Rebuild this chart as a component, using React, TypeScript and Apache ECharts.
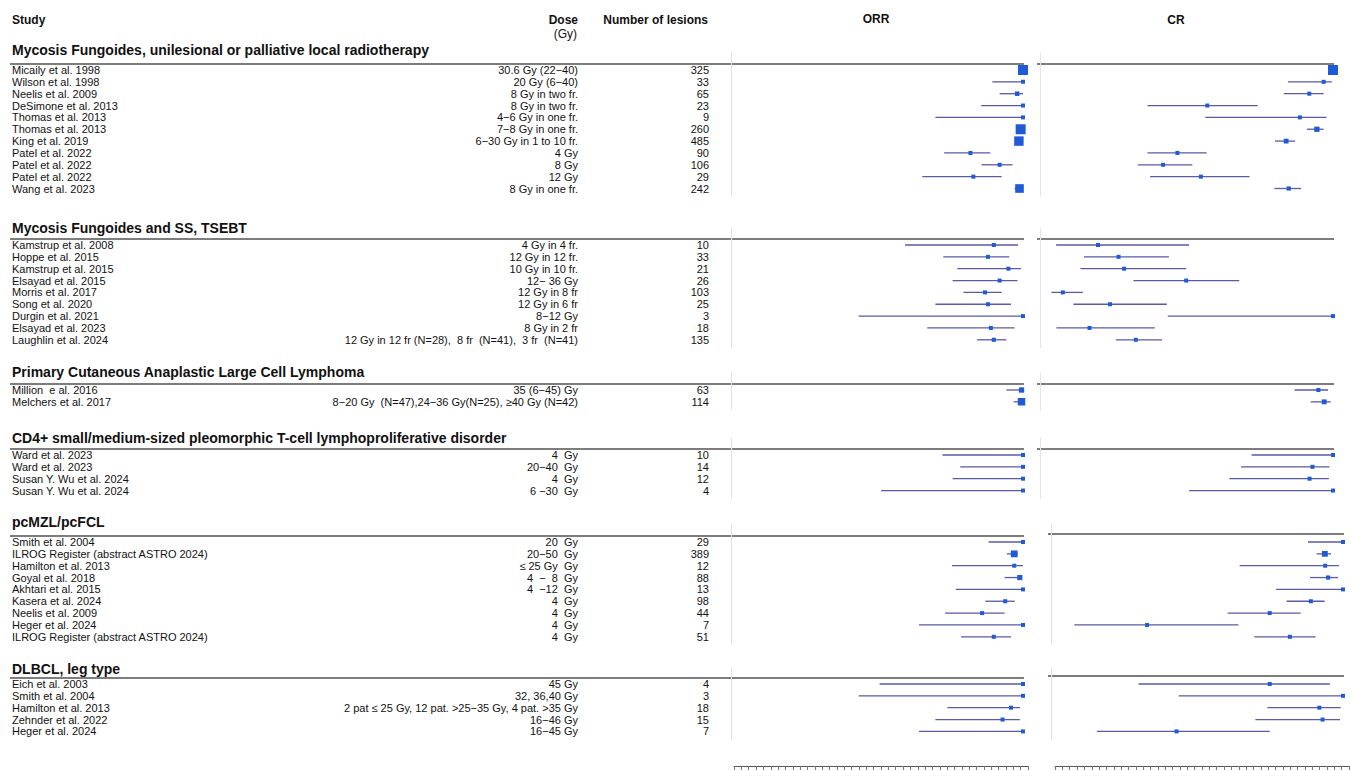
import React, { useEffect, useRef } from "react";
import * as echarts from "echarts";

// ---------------- data ----------------
const sectionTitles = [
  "Mycosis Fungoides, unilesional or palliative local radiotherapy",
  "Mycosis Fungoides and SS, TSEBT",
  "Primary Cutaneous Anaplastic Large Cell Lymphoma",
  "CD4+ small/medium-sized pleomorphic T-cell lymphoproliferative disorder",
  "pcMZL/pcFCL",
  "DLBCL, leg type",
];

// number of studies listed under each section, in order
const sectionSizes = [11, 9, 2, 4, 9, 5];

const studyNames = [
  // MF, local RT
  "Micaily et al. 1998", "Wilson et al. 1998", "Neelis et al. 2009", "DeSimone et al. 2013",
  "Thomas et al. 2013", "Thomas et al. 2013", "King et al. 2019", "Patel et al. 2022",
  "Patel et al. 2022", "Patel et al. 2022", "Wang et al. 2023",
  // MF and SS, TSEBT
  "Kamstrup et al. 2008", "Hoppe et al. 2015", "Kamstrup et al. 2015", "Elsayad et al. 2015",
  "Morris et al. 2017", "Song et al. 2020", "Durgin et al. 2021", "Elsayad et al. 2023",
  "Laughlin et al. 2024",
  // pcALCL
  "Million  e al. 2016", "Melchers et al. 2017",
  // CD4+ SMPLPD
  "Ward et al. 2023", "Ward et al. 2023", "Susan Y. Wu et al. 2024", "Susan Y. Wu et al. 2024",
  // pcMZL/pcFCL
  "Smith et al. 2004", "ILROG Register (abstract ASTRO 2024)", "Hamilton et al. 2013",
  "Goyal et al. 2018", "Akhtari et al. 2015", "Kasera et al. 2024", "Neelis et al. 2009",
  "Heger et al. 2024", "ILROG Register (abstract ASTRO 2024)",
  // DLBCL, leg type
  "Eich et al. 2003", "Smith et al. 2004", "Hamilton et al. 2013", "Zehnder et al. 2022",
  "Heger et al. 2024",
];

const doses = [
  "30.6 Gy (22−40)", "20 Gy (6−40)", "8 Gy in two fr.", "8 Gy in two fr.",
  "4−6 Gy in one fr.", "7−8 Gy in one fr.", "6−30 Gy in 1 to 10 fr.", "4 Gy",
  "8 Gy", "12 Gy", "8 Gy in one fr.",
  "4 Gy in 4 fr.", "12 Gy in 12 fr.", "10 Gy in 10 fr.", "12− 36 Gy",
  "12 Gy in 8 fr", "12 Gy in 6 fr", "8−12 Gy", "8 Gy in 2 fr",
  "12 Gy in 12 fr (N=28),  8 fr  (N=41),  3 fr  (N=41)",
  "35 (6−45) Gy", "8−20 Gy  (N=47),24−36 Gy(N=25), ≥40 Gy (N=42)",
  "4  Gy", "20−40  Gy", "4  Gy", "6 −30  Gy",
  "20  Gy", "20−50  Gy", "≤ 25 Gy  Gy", "4  −  8  Gy", "4  −12  Gy", "4  Gy", "4  Gy",
  "4  Gy", "4  Gy",
  "45 Gy", "32, 36,40 Gy", "2 pat ≤ 25 Gy, 12 pat. >25−35 Gy, 4 pat. >35 Gy", "16−46 Gy",
  "16−45 Gy",
];

const lesionCounts = [
  325, 33, 65, 23, 9, 260, 485, 90, 106, 29, 242,
  10, 33, 21, 26, 103, 25, 3, 18, 135,
  63, 114,
  10, 14, 12, 4,
  29, 389, 12, 88, 13, 98, 44, 7, 51,
  4, 3, 18, 15, 7,
];

// overall response rate: estimate and 95% CI
const orrEst = [
  1.0, 1.0, 0.98, 1.0, 1.0, 0.992, 0.986, 0.82, 0.92, 0.83, 0.988,
  0.9, 0.88, 0.95, 0.92, 0.87, 0.88, 1.0, 0.89, 0.9,
  0.995, 0.995,
  1.0, 1.0, 1.0, 1.0,
  1.0, 0.97, 0.97, 0.989, 1.0, 0.939, 0.86, 1.0, 0.9,
  1.0, 1.0, 0.959, 0.93, 1.0,
];
const orrLow = [
  0.99, 0.895, 0.92, 0.857, 0.7, 0.978, 0.972, 0.73, 0.858, 0.655, 0.971,
  0.596, 0.727, 0.775, 0.759, 0.796, 0.7, 0.437, 0.672, 0.843,
  0.943, 0.968,
  0.724, 0.785, 0.759, 0.514,
  0.882, 0.945, 0.757, 0.937, 0.77, 0.871, 0.733, 0.644, 0.788,
  0.509, 0.437, 0.741, 0.7, 0.644,
];
const orrHigh = [
  1.0, 1.0, 1.0, 1.0, 1.0, 0.999, 0.995, 0.888, 0.964, 0.927, 0.997,
  0.983, 0.953, 0.993, 0.981, 0.927, 0.959, 1.0, 0.971, 0.943,
  1.0, 1.0,
  1.0, 1.0, 1.0, 1.0,
  1.0, 0.982, 1.0, 0.997, 1.0, 0.972, 0.937, 1.0, 0.959,
  1.0, 1.0, 0.99, 0.989, 1.0,
];

// complete response rate: estimate and 95% CI
const crEst = [
  1.0, 0.968, 0.919, 0.571, 0.887, 0.945, 0.84, 0.469, 0.42, 0.549, 0.849,
  0.198, 0.268, 0.287, 0.499, 0.078, 0.239, 1.0, 0.169, 0.327,
  0.95, 0.97,
  1.0, 0.93, 0.92, 1.0,
  1.0, 0.938, 0.939, 0.949, 1.0, 0.89, 0.749, 0.329, 0.818,
  0.749, 1.0, 0.919, 0.93, 0.43,
];
const crLow = [
  0.99, 0.846, 0.832, 0.367, 0.564, 0.911, 0.802, 0.367, 0.334, 0.376, 0.8,
  0.055, 0.15, 0.138, 0.319, 0.039, 0.114, 0.436, 0.056, 0.259,
  0.869, 0.924,
  0.722, 0.686, 0.646, 0.509,
  0.88, 0.91, 0.646, 0.887, 0.771, 0.807, 0.605, 0.08, 0.696,
  0.3, 0.437, 0.741, 0.7, 0.157,
];
const crHigh = [
  1.0, 0.996, 0.968, 0.743, 0.978, 0.968, 0.871, 0.569, 0.52, 0.715, 0.891,
  0.509, 0.44, 0.499, 0.68, 0.146, 0.433, 1.0, 0.392, 0.417,
  0.983, 0.992,
  1.0, 0.988, 0.986, 1.0,
  1.0, 0.959, 0.986, 0.983, 1.0, 0.937, 0.855, 0.642, 0.906,
  0.955, 1.0, 0.992, 0.99, 0.749,
];

// ---------------- layout & style ----------------
const W = 1351;
const H = 771;
const FONT = "'Liberation Sans', Arial, Helvetica, sans-serif";
const ROW_PITCH = 11.85;
const FIRST_ROW_Y = [70, 245, 390, 455, 542, 684];
const HEADER_OFFSET = [-20, -17, -18, -17, -20, -15];
const TOP_PAD = 17;
const BOTTOM_PAD = 8;
const ORR_X0 = 731;
const ORR_X1 = 1023;
const CR_X = [
  [1040, 1333], [1040, 1333], [1040, 1333], [1040, 1333], [1051, 1343], [1051, 1343],
];
const CR_LINE_DY = [0, 0, 0, 0, -2, -2];
const STUDY_X = 12;
const DOSE_RIGHT = 578;
const N_RIGHT = 709;
const MARK_COLOR = "#1f5bd6";
const CI_COLOR = "#5a5aa6";
const RULE_COLOR = "#7d7d7d";
const ZERO_LINE_COLOR = "#e4e4e4";

// marker side grows with precision (narrower CI -> larger square)
const markSize = (lo: number, hi: number) =>
  Math.min(10, Math.max(4, 2.5 + 0.16 / Math.max(hi - lo, 1e-6)));

const renderInterval = (_params: any, api: any) => {
  const row = api.value(3);
  const a = api.coord([api.value(0), row]);
  const b = api.coord([api.value(1), row]);
  const c = api.coord([api.value(2), row]);
  const s = api.value(4);
  return {
    type: "group",
    children: [
      {
        type: "line",
        shape: { x1: a[0], y1: a[1], x2: b[0], y2: b[1] },
        style: { stroke: CI_COLOR, lineWidth: 1.3 },
      },
      {
        type: "rect",
        shape: { x: c[0] - s / 2, y: c[1] - s / 2, width: s, height: s },
        style: { fill: MARK_COLOR },
      },
    ],
  };
};

function buildOption() {
  const grid: any[] = [];
  const xAxis: any[] = [];
  const yAxis: any[] = [];
  const series: any[] = [];
  const graphic: any[] = [];

  const txt = (
    text: string, x: number, y: number,
    opts: { align?: string; size?: number; bold?: boolean } = {}
  ) => ({
    type: "text",
    x,
    y,
    silent: true,
    style: {
      text,
      fill: "#111",
      fontFamily: FONT,
      fontSize: opts.size ?? 11,
      fontWeight: opts.bold ? "bold" : "normal",
      align: opts.align ?? "left",
      verticalAlign: "middle",
    },
  });
  const rule = (x1: number, x2: number, y: number) => ({
    type: "line",
    silent: true,
    shape: { x1, y1: y, x2, y2: y },
    style: { stroke: RULE_COLOR, lineWidth: 1.8 },
  });

  // column headings
  graphic.push(txt("Study", STUDY_X, 20, { bold: true, size: 12 }));
  graphic.push(txt("Dose", DOSE_RIGHT, 20, { bold: true, size: 12, align: "right" }));
  graphic.push(txt("(Gy)", DOSE_RIGHT - 1, 34, { size: 12, align: "right" }));
  graphic.push(txt("Number of lesions", N_RIGHT - 1, 20, { bold: true, size: 12, align: "right" }));
  graphic.push(txt("ORR", 876, 19, { bold: true, size: 12, align: "center" }));
  graphic.push(txt("CR", 1176, 20, { bold: true, size: 12, align: "center" }));

  let start = 0;
  sectionSizes.forEach((n, s) => {
    const y0 = FIRST_ROW_Y[s];
    const top = y0 - TOP_PAD;
    const height = (n - 1) * ROW_PITCH + TOP_PAD + BOTTOM_PAD;
    const yMin = -TOP_PAD / ROW_PITCH;
    const yMax = n - 1 + BOTTOM_PAD / ROW_PITCH;
    const [crX0, crX1] = CR_X[s];

    const panels = [
      { left: ORR_X0, right: W - ORR_X1, est: orrEst, low: orrLow, high: orrHigh },
      { left: crX0, right: W - crX1, est: crEst, low: crLow, high: crHigh },
    ];
    panels.forEach((p) => {
      const gi = grid.length;
      grid.push({ left: p.left, right: p.right, top, height, containLabel: false });
      xAxis.push({ type: "value", gridIndex: gi, min: 0, max: 1, show: false });
      yAxis.push({
        type: "value",
        gridIndex: gi,
        min: yMin,
        max: yMax,
        inverse: true,
        axisLine: { show: true, onZero: false, lineStyle: { color: ZERO_LINE_COLOR, width: 1 } },
        axisTick: { show: false },
        axisLabel: { show: false },
        splitLine: { show: false },
      });
      const data: number[][] = [];
      for (let i = 0; i < n; i++) {
        const k = start + i;
        data.push([p.low[k], p.high[k], p.est[k], i, markSize(p.low[k], p.high[k])]);
      }
      series.push({
        type: "custom",
        xAxisIndex: gi,
        yAxisIndex: gi,
        renderItem: renderInterval,
        encode: { x: [0, 1, 2], y: 3 },
        clip: false,
        silent: true,
        data,
      });
    });

    // section heading, rules and table rows
    graphic.push(txt(sectionTitles[s], STUDY_X, y0 + HEADER_OFFSET[s], { bold: true, size: 14 }));
    graphic.push(rule(10, ORR_X1 + 1, y0 - 6));
    graphic.push(rule(crX0 - 3, crX1 + 1, y0 - 6 + CR_LINE_DY[s]));
    for (let i = 0; i < n; i++) {
      const k = start + i;
      const y = y0 + i * ROW_PITCH;
      graphic.push(txt(studyNames[k], STUDY_X, y));
      graphic.push(txt(doses[k], DOSE_RIGHT, y, { align: "right" }));
      graphic.push(txt(String(lesionCounts[k]), N_RIGHT, y, { align: "right" }));
    }
    start += n;
  });

  // bottom proportion scales
  [
    [734, 1028],
    [1055, 1349],
  ].forEach(([l, r]) => {
    const gi = grid.length;
    grid.push({ left: l, right: W - r, top: 765, height: 1 });
    xAxis.push({
      type: "value",
      gridIndex: gi,
      min: 0,
      max: 1,
      interval: 0.025,
      position: "bottom",
      axisLine: { show: true, onZero: false, lineStyle: { color: "#555", width: 1.2 } },
      axisTick: { show: true, length: 4, lineStyle: { color: "#777" } },
      axisLabel: { show: false },
      splitLine: { show: false },
    });
    yAxis.push({ type: "value", gridIndex: gi, min: 0, max: 1, show: false });
    series.push({
      type: "custom",
      xAxisIndex: gi,
      yAxisIndex: gi,
      renderItem: () => ({ type: "group", children: [] }),
      data: [],
    });
  });

  return {
    animation: false,
    backgroundColor: "#ffffff",
    grid,
    xAxis,
    yAxis,
    series,
    graphic,
  };
}

export default function App() {
  const ref = useRef<HTMLDivElement>(null);
  useEffect(() => {
    if (!ref.current) return;
    const chart = echarts.init(ref.current, undefined, { renderer: "svg" });
    chart.setOption(buildOption() as any);
    return () => chart.dispose();
  }, []);
  return (
    <div
      ref={ref}
      style={{ position: "absolute", left: 0, top: 0, width: W, height: H, background: "#fff" }}
    />
  );
}
